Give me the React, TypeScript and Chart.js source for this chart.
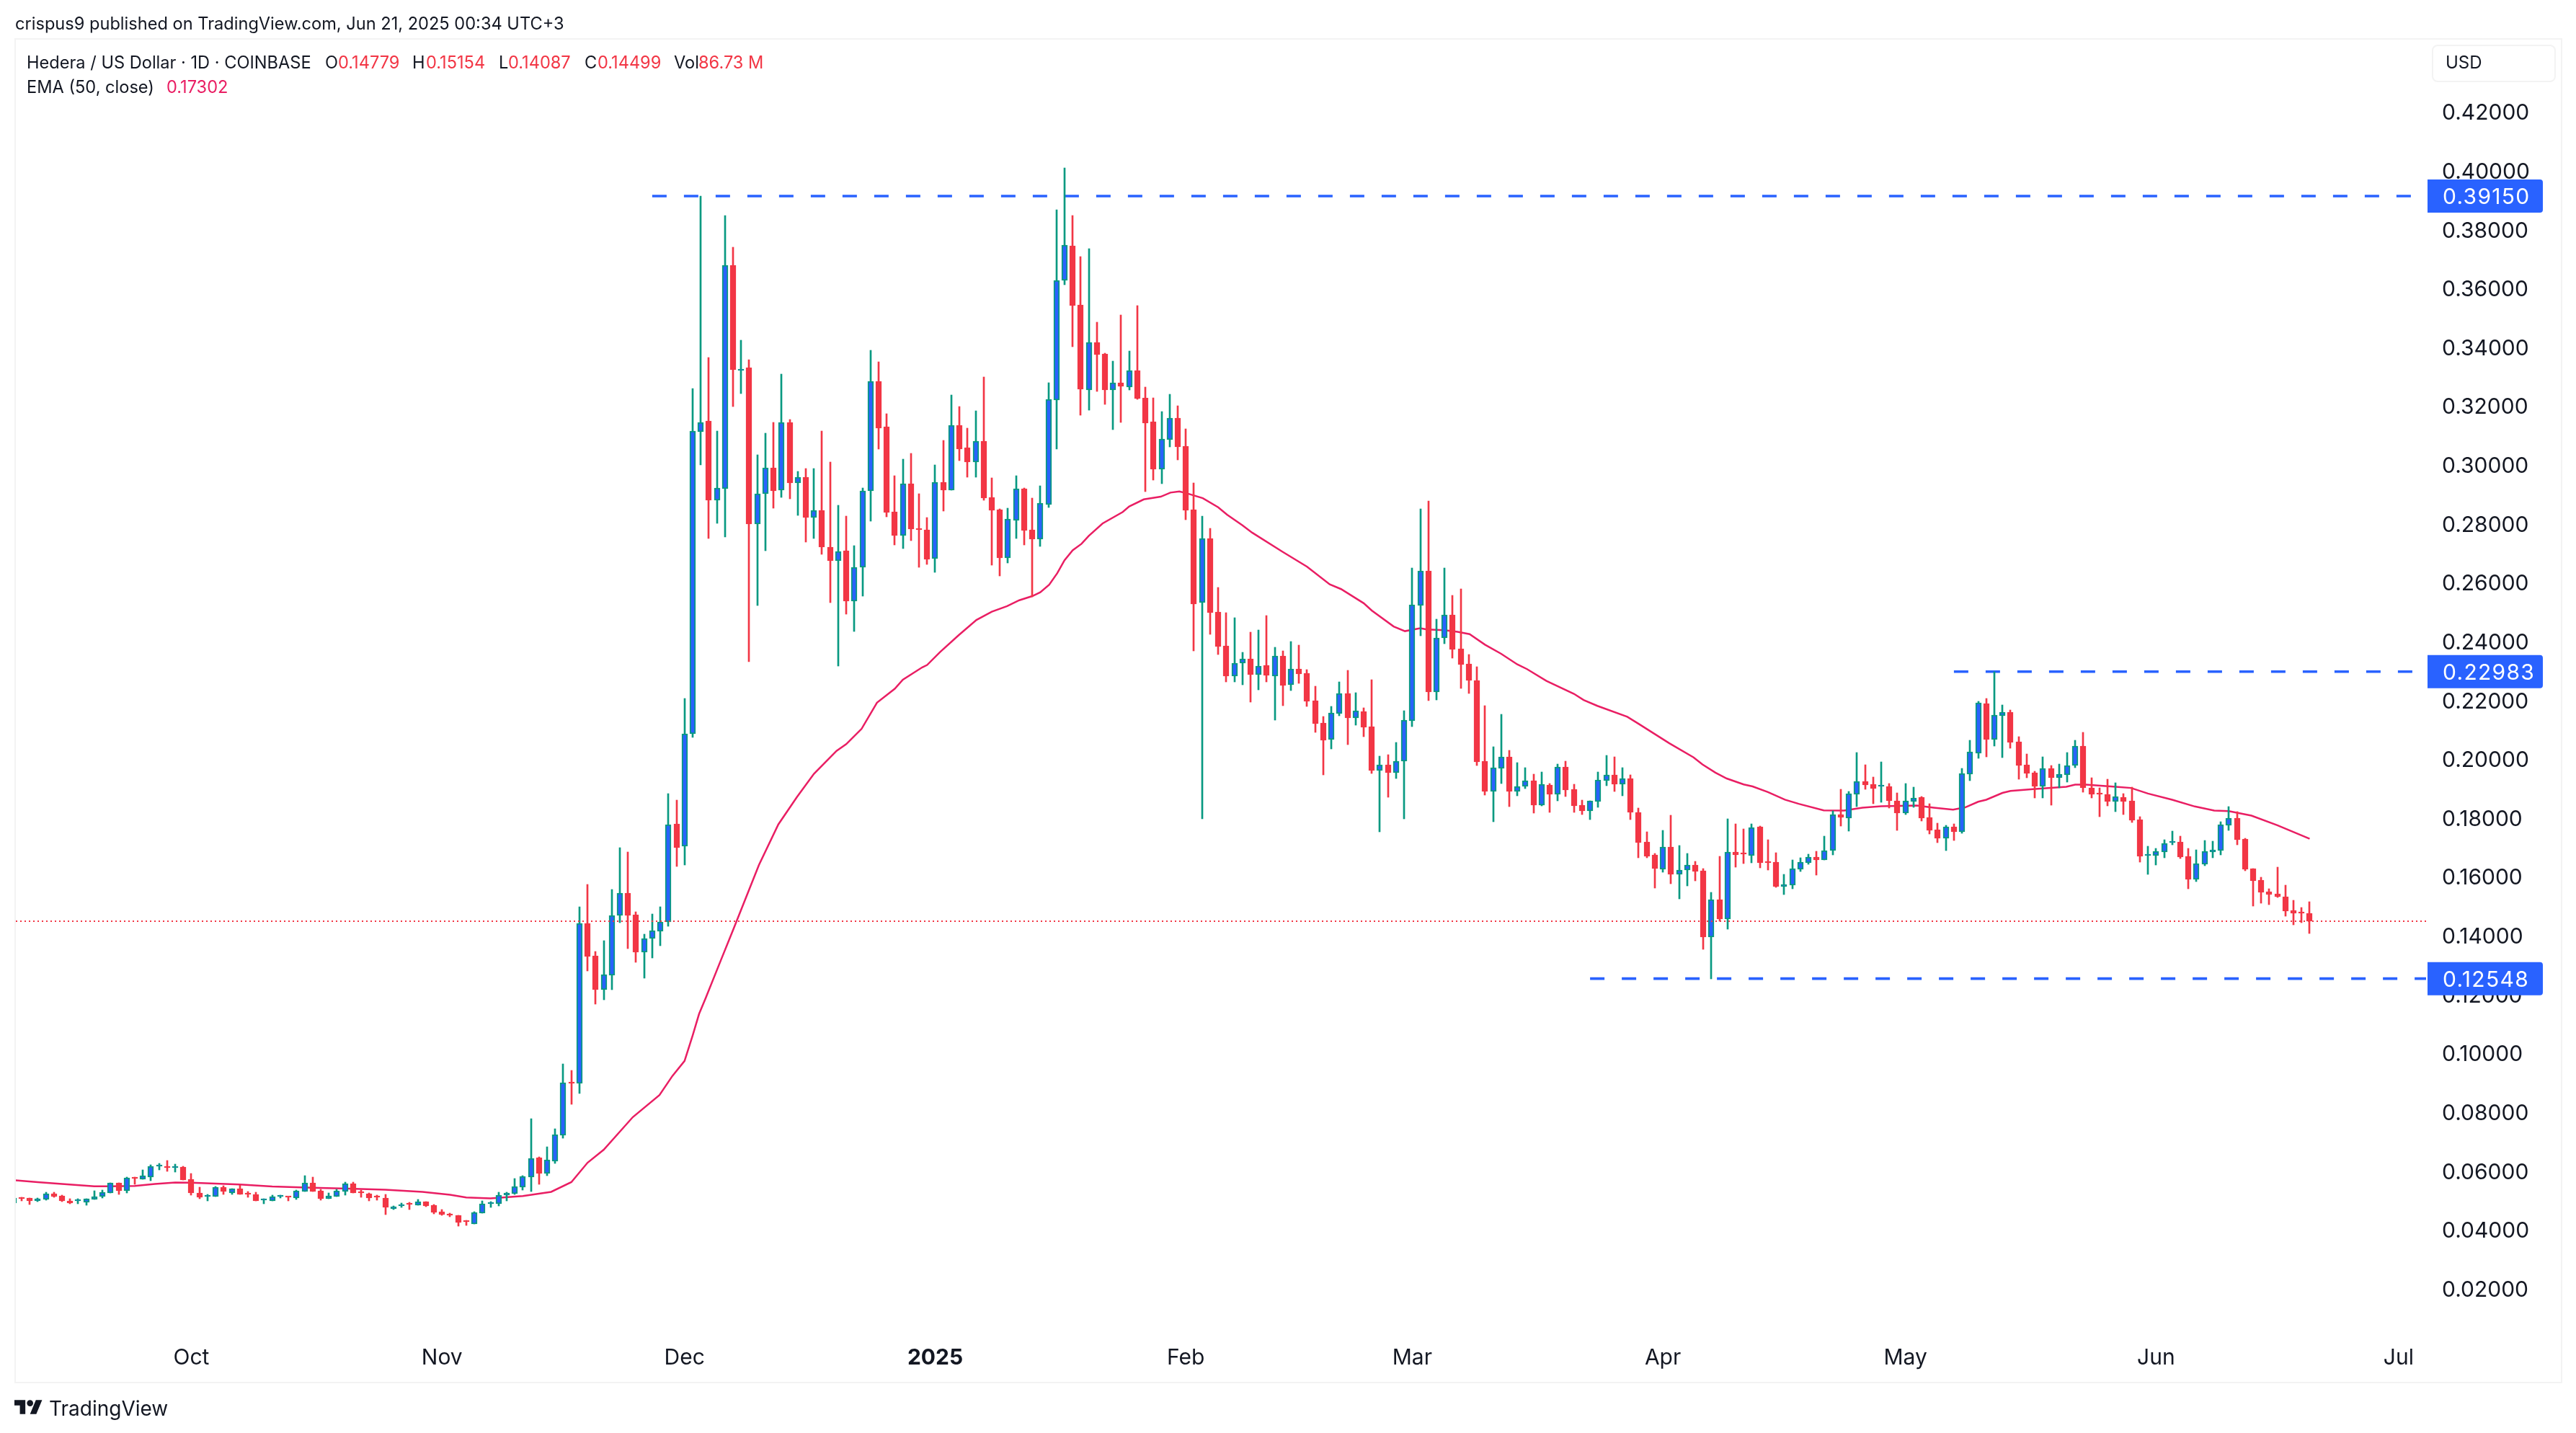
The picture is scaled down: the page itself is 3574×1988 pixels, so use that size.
import { useEffect, useRef } from 'react';
import { Chart, registerables } from 'chart.js';

Chart.register(...registerables);

const FONT = 'Inter, "Noto Sans", sans-serif';
const INK = '#131722';
const UP = '#089981';
const UP_FILL = '#2962ff';
const DOWN = '#f23645';
const EMA_COLOR = '#e91e63';
const LEVEL_COLOR = '#2962ff';

// daily candles, Sep 9 2024 -> Jun 20 2025
const opens = [
  .0493, .0511, .0508, .0498, .0505, .0524, .0516, .0498, .0498, .0495,
  .0505, .0515, .0526, .0560, .0534, .0579, .0573, .0581, .0616, .0616,
  .0613, .0614, .0573, .0525, .0515, .0515, .0546, .0527, .0541, .0526,
  .0521, .0501, .0500, .0513, .0515, .0510, .0532, .0561, .0533, .0507,
  .0515, .0532, .0558, .0529, .0524, .0514, .0509, .0473, .0481, .0490,
  .0484, .0497, .0484, .0462, .0455, .0450, .0430, .0422, .0458, .0490,
  .0490, .0520, .0524, .0547, .0581, .0647, .0592, .0635, .0723, .0902,
  .0899, .1443, .1332, .1216, .1265, .1469, .1545, .1472, .1345, .1390,
  .1416, .1447, .1780, .1704, .2086, .3113, .3151, .2880, .2921, .3680,
  .3322, .3332, .2801, .2902, .2991, .2915, .3146, .2940, .2960, .2822,
  .2846, .2721, .2674, .2710, .2537, .2652, .2912, .3285, .3130, .2841,
  .2762, .2937, .2785, .2780, .2682, .2943, .2915, .3135, .3060, .3012,
  .3082, .2891, .2849, .2685, .2813, .2919, .2780, .2749, .2866, .3221,
  .3629, .3746, .3544, .3255, .3418, .3379, .3255, .3280, .3266, .3323,
  .3229, .3148, .2987, .3087, .3160, .3065, .2849, .2532, .2751, .2501,
  .2387, .2283, .2326, .2341, .2288, .2319, .2283, .2352, .2254, .2308,
  .2293, .2200, .2124, .2068, .2155, .2224, .2141, .2162, .2112, .1962,
  .1982, .1955, .1994, .2132, .2523, .2641, .2229, .2412, .2492, .2376,
  .2324, .2268, .1994, .1890, .1969, .2009, .1890, .1908, .1928, .1844,
  .1913, .1881, .1974, .1899, .1845, .1825, .1857, .1928, .1947, .1915,
  .1935, .1820, .1719, .1676, .1627, .1702, .1609, .1623, .1641, .1621,
  .1397, .1524, .1457, .1684, .1680, .1674, .1771, .1653, .1651, .1568,
  .1573, .1626, .1648, .1668, .1658, .1690, .1813, .1800, .1881, .1925,
  .1916, .1907, .1908, .1859, .1817, .1857, .1871, .1803, .1761, .1732,
  .1771, .1754, .1950, .2021, .2190, .2067, .2148, .2161, .2060, .1982,
  .1955, .1908, .1969, .1938, .1947, .1979, .2045, .1903, .1885, .1881,
  .1857, .1871, .1859, .1795, .1674, .1673, .1685, .1718, .1720, .1671,
  .1592, .1644, .1685, .1690, .1776, .1800, .1729, .1629, .1590, .1550,
  .1543, .1533, .1487, .1481, .14779,
];
const highs = [
  .0510, .0512, .0509, .0508, .0529, .0529, .0518, .0506, .0506, .0507,
  .0533, .0536, .0561, .0561, .0579, .0579, .0604, .0622, .0626, .0636,
  .0623, .0616, .0592, .0546, .0522, .0548, .0551, .0541, .0552, .0531,
  .0529, .0507, .0519, .0519, .0515, .0536, .0585, .0580, .0538, .0526,
  .0538, .0563, .0563, .0536, .0526, .0520, .0521, .0482, .0493, .0494,
  .0504, .0497, .0486, .0470, .0458, .0450, .0433, .0462, .0498, .0497,
  .0529, .0529, .0575, .0585, .0778, .0649, .0683, .0744, .0965, .0943,
  .1498, .1575, .1347, .1384, .1558, .1700, .1685, .1482, .1406, .1475,
  .1499, .1884, .1862, .2208, .3260, .3915, .3366, .3116, .3849, .3741,
  .3426, .3359, .3035, .3108, .3146, .3310, .3155, .2979, .2988, .2988,
  .3116, .3012, .2863, .2827, .2727, .2922, .3391, .3351, .3176, .2965,
  .3021, .3040, .2904, .2822, .3001, .3085, .3238, .3199, .3126, .3185,
  .3301, .2957, .2852, .2854, .2965, .2922, .2888, .2930, .3280, .3868,
  .4010, .3849, .3709, .3737, .3487, .3381, .3354, .3510, .3388, .3543,
  .3266, .3229, .3182, .3241, .3202, .3124, .2940, .2827, .2785, .2585,
  .2499, .2482, .2365, .2432, .2440, .2490, .2382, .2369, .2400, .2389,
  .2305, .2249, .2146, .2180, .2263, .2303, .2227, .2175, .2270, .2011,
  .2016, .2058, .2166, .2650, .2852, .2879, .2477, .2650, .2557, .2580,
  .2357, .2315, .2182, .2043, .2153, .2031, .1989, .1971, .1950, .1957,
  .1917, .1984, .1994, .1915, .1861, .1860, .1957, .2014, .2009, .1971,
  .1947, .1834, .1753, .1681, .1758, .1810, .1708, .1681, .1654, .1629,
  .1548, .1671, .1798, .1781, .1764, .1781, .1773, .1727, .1683, .1609,
  .1658, .1666, .1678, .1688, .1739, .1825, .1898, .1891, .2023, .1982,
  .1940, .1991, .1918, .1886, .1918, .1906, .1874, .1849, .1783, .1776,
  .1781, .1969, .2065, .2197, .2207, .2298, .2185, .2168, .2077, .2018,
  .1960, .2009, .1979, .1984, .2023, .2065, .2092, .1938, .1903, .1933,
  .1921, .1884, .1906, .1805, .1705, .1697, .1727, .1756, .1739, .1697,
  .1693, .1724, .1722, .1788, .1840, .1822, .1732, .1629, .1599, .1560,
  .1634, .1573, .1521, .1497, .15154,
];
const lows = [
  .0492, .0500, .0488, .0497, .0502, .0511, .0497, .0489, .0490, .0484,
  .0504, .0510, .0525, .0522, .0527, .0555, .0573, .0569, .0605, .0600,
  .0598, .0571, .0520, .0507, .0500, .0515, .0522, .0522, .0522, .0512,
  .0500, .0490, .0500, .0510, .0498, .0505, .0530, .0532, .0502, .0507,
  .0515, .0520, .0525, .0512, .0500, .0502, .0453, .0470, .0476, .0471,
  .0484, .0480, .0456, .0451, .0446, .0414, .0417, .0422, .0458, .0478,
  .0483, .0500, .0522, .0537, .0532, .0556, .0586, .0627, .0713, .0827,
  .0865, .1282, .1167, .1184, .1218, .1445, .1357, .1310, .1257, .1325,
  .1367, .1433, .1637, .1641, .2074, .3001, .2751, .2802, .2755, .3199,
  .3243, .2332, .2524, .2710, .2854, .2891, .2887, .2829, .2738, .2751,
  .2698, .2533, .2318, .2494, .2435, .2555, .2810, .3055, .2824, .2729,
  .2716, .2744, .2654, .2663, .2637, .2844, .2915, .3016, .2960, .2960,
  .2880, .2660, .2624, .2668, .2751, .2729, .2552, .2724, .2857, .3055,
  .3613, .3402, .3169, .3187, .3251, .3207, .3121, .3146, .3255, .3224,
  .2910, .2949, .2937, .3062, .3018, .2815, .2369, .1797, .2426, .2357,
  .2263, .2263, .2254, .2194, .2236, .2263, .2133, .2183, .2234, .2259,
  .2180, .2092, .1947, .2036, .2148, .2050, .2117, .2077, .1953, .1753,
  .1872, .1936, .1798, .2112, .2420, .2200, .2202, .2393, .2344, .2241,
  .2224, .1980, .1879, .1789, .1917, .1839, .1876, .1901, .1818, .1841,
  .1820, .1859, .1874, .1820, .1812, .1796, .1837, .1910, .1890, .1876,
  .1796, .1665, .1665, .1562, .1616, .1578, .1526, .1571, .1587, .1355,
  .1255, .1449, .1423, .1634, .1646, .1648, .1631, .1624, .1565, .1541,
  .1560, .1619, .1644, .1607, .1658, .1675, .1773, .1756, .1840, .1898,
  .1849, .1854, .1835, .1759, .1813, .1837, .1790, .1747, .1717, .1690,
  .1724, .1749, .1928, .2004, .2009, .2045, .2006, .2038, .1933, .1938,
  .1869, .1869, .1844, .1903, .1923, .1972, .1889, .1869, .1805, .1842,
  .1822, .1813, .1786, .1651, .1609, .1641, .1666, .1710, .1663, .1560,
  .1585, .1639, .1666, .1675, .1759, .1710, .1622, .1501, .1511, .1506,
  .1531, .1467, .1438, .1445, .14087,
];
const closes = [
  .0508, .0507, .0498, .0507, .0524, .0514, .0498, .0492, .0502, .0506,
  .0515, .0528, .0560, .0534, .0577, .0575, .0584, .0617, .0619, .0611,
  .0616, .0571, .0525, .0511, .0518, .0546, .0530, .0540, .0522, .0522,
  .0500, .0504, .0514, .0515, .0512, .0533, .0561, .0532, .0507, .0516,
  .0533, .0558, .0525, .0525, .0509, .0511, .0476, .0480, .0487, .0487,
  .0497, .0482, .0461, .0453, .0449, .0426, .0427, .0460, .0489, .0494,
  .0520, .0526, .0548, .0582, .0645, .0592, .0639, .0725, .0900, .0899,
  .1443, .1331, .1216, .1268, .1469, .1545, .1470, .1345, .1390, .1417,
  .1447, .1778, .1701, .2086, .3116, .3146, .2880, .2922, .3680, .3324,
  .3328, .2801, .2904, .2991, .2913, .3146, .2940, .2960, .2822, .2846,
  .2721, .2674, .2707, .2537, .2654, .2913, .3285, .3127, .2840, .2762,
  .2937, .2782, .2781, .2680, .2943, .2915, .3135, .3055, .3012, .3082,
  .2888, .2846, .2685, .2818, .2919, .2779, .2749, .2871, .3224, .3629,
  .3748, .3543, .3259, .3418, .3376, .3255, .3280, .3268, .3323, .3226,
  .3143, .2987, .3090, .3160, .3062, .2846, .2529, .2751, .2499, .2383,
  .2283, .2327, .2341, .2288, .2318, .2285, .2352, .2251, .2307, .2290,
  .2198, .2121, .2065, .2158, .2224, .2141, .2166, .2108, .1962, .1981,
  .1955, .1994, .2133, .2526, .2641, .2229, .2413, .2492, .2373, .2322,
  .2268, .1991, .1890, .1971, .2009, .1890, .1908, .1928, .1845, .1915,
  .1881, .1974, .1896, .1842, .1825, .1859, .1930, .1947, .1915, .1935,
  .1820, .1717, .1671, .1629, .1702, .1609, .1623, .1641, .1619, .1396,
  .1524, .1457, .1684, .1676, .1677, .1769, .1648, .1649, .1568, .1574,
  .1628, .1651, .1668, .1658, .1690, .1813, .1803, .1884, .1925, .1913,
  .1901, .1911, .1859, .1817, .1859, .1869, .1800, .1759, .1732, .1771,
  .1754, .1952, .2026, .2192, .2067, .2151, .2161, .2058, .1979, .1952,
  .1908, .1969, .1938, .1950, .1979, .2045, .1903, .1881, .1882, .1857,
  .1874, .1857, .1793, .1671, .1678, .1688, .1715, .1722, .1668, .1592,
  .1646, .1688, .1693, .1778, .1800, .1727, .1626, .1587, .1548, .1541,
  .1533, .1484, .1477, .1478, .14499,
];

// EMA (50, close), at the candle positions in emaAt
const emaAt = [
  0, 3, 6, 10, 12, 15, 17.5, 20, 22, 28, 32, 37, 41.5, 46, 50.6, 54, 56, 59, 63, 66.5, 69, 71, 73, 76.6, 79.9,
  81.5, 83, 84, 84.8, 85.6, 87.5, 89, 92.2, 94.6, 96.9, 99, 101.8, 103, 104.9, 106.8, 109, 110, 112.4, 113,
  114.6, 116.9, 119.1, 121, 122.9, 124.4, 126, 127, 128.1, 129.1, 130, 131, 132.1, 133, 134.7, 137.2, 138,
  139.8, 141.9, 143.1, 144.2, 145.2, 147.1, 149, 150.1, 152, 153.2, 157, 160, 162.8, 164.2, 167, 168, 170.7,
  172.1, 174, 174.8, 177, 178.6, 180.1, 182, 184, 186, 187.2, 189.6, 193, 194.2, 195.9, 199.6, 201, 204.8,
  207.8, 208.9, 210.5, 211.9, 214, 215.1, 217, 219.1, 220.8, 223.9, 226.4, 228.7, 231, 235.4, 237.5, 239.9,
  241.4, 243, 244, 246, 247, 249.8, 253.9, 255, 256.3, 260, 261.9, 264, 267, 269.8, 272.2, 274, 276.8, 280, 284,
];
const emaValues = [
  .0570, .0563, .0557, .0549, .0549, .0550, .0557, .0562, .0561, .0555, .0548, .0544, .0541, .0537, .0530, .0520, .0511, .0508, .0516, .0530, .0563, .0629, .0673, .0784, .0859,
  .0924, .0975, .1061, .1135, .1188, .1318, .1420, .1641, .1779, .1872, .1951, .2029, .2052, .2104, .2193, .2240, .2271, .2313, .2321,
  .2365, .2422, .2474, .2502, .2521, .2541, .2555, .2568, .2594, .2633, .2677, .2711, .2733, .2760, .2802, .2841, .2860,
  .2884, .2893, .2907, .2911, .2904, .2888, .2857, .2832, .2796, .2771, .2705, .2655, .2595, .2579, .2531, .2506, .2452,
  .2436, .2446, .2442, .2439, .2434, .2426, .2390, .2359, .2323, .2307, .2267, .2223, .2202, .2182, .2145, .2121, .2055,
  .2007, .1983, .1955, .1935, .1915, .1908, .1889, .1863, .1849, .1827, .1826, .1836, .1841, .1843, .1836, .1829,
  .1837, .1856, .1863, .1886, .1893, .1899, .1907, .1914, .1914, .1907, .1903, .1884, .1863, .1840, .1826, .1824, .1809, .1776, .17302,
];

const levelValues = [0.3915, 0.22983, 0.12548];
const levelStarts = [79, 240, 195];
const lastPrice = 0.14499;

const priceTicks = [
  0.02, 0.04, 0.06, 0.08, 0.1, 0.12, 0.14, 0.16, 0.18, 0.2, 0.22,
  0.24, 0.26, 0.28, 0.3, 0.32, 0.34, 0.36, 0.38, 0.4, 0.42,
];
const monthAt = [22, 53, 83, 114, 145, 173, 204, 234, 265, 295];
const monthLabels = ['Oct', 'Nov', 'Dec', '2025', 'Feb', 'Mar', 'Apr', 'May', 'Jun', 'Jul'];

const X_MIN = 0.294;
const X_MAX = 298.4;
const Y_MIN = 0.00361;
const Y_MAX = 0.44443;
// canvas "middle" sits a little high for Inter digits, nudge the tick labels down
const TICK_NUDGE = 0.0004;

// candles land on whole pixels, like the original
const snapBars = {
  id: 'snapBars',
  beforeDatasetsDraw(chart: Chart) {
    chart.getSortedVisibleDatasetMetas().forEach((meta: any) => {
      if (meta.type !== 'bar') return;
      meta.data.forEach((bar: any) => {
        bar.x = Math.round(bar.x);
        bar.y = Math.round(bar.y);
        bar.base = Math.round(bar.base);
      });
    });
  },
};

const levelBadges = {
  id: 'levelBadges',
  afterDraw(chart: Chart) {
    const { ctx } = chart;
    const yScale = chart.scales.y;
    ctx.save();
    levelValues.forEach((value) => {
      const y = yScale.getPixelForValue(value);
      ctx.fillStyle = LEVEL_COLOR;
      ctx.beginPath();
      ctx.roundRect(yScale.left + 2, y - 23, 160, 46, [0, 4, 4, 0]);
      ctx.fill();
      ctx.fillStyle = '#ffffff';
      ctx.font = `400 30px ${FONT}`;
      (ctx as any).letterSpacing = '1.3px';
      ctx.textAlign = 'left';
      ctx.textBaseline = 'middle';
      ctx.fillText(value.toFixed(5), yScale.left + 23, y + 2);
    });
    ctx.restore();
  },
};

const legendRow1 = [
  { left: 37, text: 'Hedera / US Dollar · 1D · COINBASE', color: INK },
  { left: 451, text: 'O', color: INK },
  { left: 469, text: '0.14779', color: DOWN },
  { left: 572, text: 'H', color: INK },
  { left: 591, text: '0.15154', color: DOWN },
  { left: 692, text: 'L', color: INK },
  { left: 705, text: '0.14087', color: DOWN },
  { left: 811, text: 'C', color: INK },
  { left: 829, text: '0.14499', color: DOWN },
  { left: 935, text: 'Vol', color: INK },
  { left: 969, text: '86.73 M', color: DOWN },
];
const legendRow2 = [
  { left: 37, text: 'EMA (50, close)', color: INK },
  { left: 231, text: '0.17302', color: EMA_COLOR },
];

function Label({ left, top, text, color = INK, size = 23.6, weight = 400 }: any) {
  return (
    <span
      style={{
        position: 'absolute',
        left,
        top: top - 20,
        height: 40,
        lineHeight: '40px',
        fontFamily: FONT,
        fontSize: size,
        fontWeight: weight,
        color,
        whiteSpace: 'pre',
      }}
    >
      {text}
    </span>
  );
}

export default function App() {
  const canvasRef = useRef<HTMLCanvasElement>(null);

  useEffect(() => {
    if (!canvasRef.current) return;

    const isUp = opens.map((open, i) => closes[i] >= open);

    const chart = new Chart(canvasRef.current, {
      type: 'bar',
      data: {
        datasets: [
          {
            type: 'line',
            order: 1,
            data: [
              { x: X_MIN, y: lastPrice },
              { x: X_MAX, y: lastPrice },
            ],
            borderColor: DOWN,
            borderWidth: 2,
            borderDash: [2, 4],
            pointRadius: 0,
          },
          {
            type: 'bar',
            order: 2,
            data: opens.map((open, i) => ({ x: i, y: [open, closes[i]] })),
            backgroundColor: isUp.map((up) => (up ? UP_FILL : DOWN)),
            borderColor: isUp.map((up) => (up ? UP : DOWN)),
            borderWidth: 2,
            borderSkipped: false,
            barThickness: 8,
            minBarLength: 2,
            grouped: false,
          },
          {
            type: 'bar',
            order: 3,
            data: lows.map((low, i) => ({ x: i, y: [low, highs[i]] })),
            backgroundColor: isUp.map((up) => (up ? UP : DOWN)),
            borderWidth: 0,
            barThickness: 2,
            grouped: false,
          },
          ...levelValues.map((value, i) => ({
            type: 'line',
            order: 4,
            data: [
              { x: levelStarts[i], y: value },
              { x: X_MAX, y: value },
            ],
            borderColor: LEVEL_COLOR,
            borderWidth: 3.6,
            borderDash: [20, 24],
            pointRadius: 0,
          })),
          {
            type: 'line',
            order: 5,
            data: emaAt.map((x, i) => ({ x, y: emaValues[i] })),
            borderColor: EMA_COLOR,
            borderWidth: 2.5,
            pointRadius: 0,
            tension: 0,
          },
        ],
      } as any,
      options: {
        responsive: false,
        devicePixelRatio: 1,
        animation: false,
        events: [],
        layout: { padding: { left: 22, top: 56, right: 0, bottom: 0 } },
        plugins: { legend: { display: false }, tooltip: { enabled: false } },
        scales: {
          x: {
            type: 'linear',
            offset: false,
            min: X_MIN,
            max: X_MAX,
            grid: { display: false, drawTicks: false },
            border: { display: false },
            afterBuildTicks: (scale: any) => {
              scale.ticks = monthAt.map((value) => ({ value }));
            },
            afterFit: (scale: any) => {
              scale.height = 133;
            },
            ticks: {
              autoSkip: false,
              maxRotation: 0,
              padding: 11,
              color: INK,
              font: (ctx: any) => ({
                family: FONT,
                size: 30,
                weight: ctx.tick && ctx.tick.value === 114 ? 'bold' : 'normal',
              }),
              callback: (value: any) => monthLabels[monthAt.indexOf(value)],
            },
          },
          y: {
            type: 'linear',
            position: 'right',
            min: Y_MIN,
            max: Y_MAX,
            grid: { display: false, drawTicks: false },
            border: { display: false },
            afterBuildTicks: (scale: any) => {
              scale.ticks = priceTicks.map((value) => ({ value: value - TICK_NUDGE }));
            },
            afterFit: (scale: any) => {
              scale.width = 208;
            },
            ticks: {
              autoSkip: false,
              padding: 22,
              color: INK,
              font: { family: FONT, size: 30 },
              callback: (value: any) => (Number(value) + TICK_NUDGE).toFixed(5),
            },
          },
        },
      },
      plugins: [snapBars, levelBadges],
    } as any);

    return () => chart.destroy();
  }, []);

  return (
    <div style={{ position: 'fixed', left: 0, top: 0, width: 3574, height: 1988, background: '#ffffff', overflow: 'hidden' }}>
      <div
        style={{
          position: 'absolute',
          left: 20,
          top: 53,
          width: 3531,
          height: 1862,
          border: '2px solid #f3f3f3',
        }}
      />
      <div
        style={{
          position: 'absolute',
          left: 3374,
          top: 62,
          width: 168,
          height: 48,
          border: '2px solid #f3f3f3',
          borderRadius: 8,
        }}
      />
      <canvas ref={canvasRef} width={3574} height={1988} style={{ position: 'absolute', left: 0, top: 0 }} />
      <Label left={21} top={33} text="crispus9 published on TradingView.com, Jun 21, 2025 00:34 UTC+3" />
      {legendRow1.map((item) => (
        <Label key={item.left} left={item.left} top={87} text={item.text} color={item.color} />
      ))}
      {legendRow2.map((item) => (
        <Label key={item.left} left={item.left} top={121} text={item.text} color={item.color} />
      ))}
      <Label left={3393} top={87} text="USD" size={24} />
      <svg style={{ position: 'absolute', left: 20, top: 1942 }} width={39} height={20} viewBox="0 4 36 18">
        <path d="M14 22H7V11H0V4h14v18zM28 22h-8l7.5-18h8L28 22z" fill={INK} />
        <circle cx={20} cy={8} r={4} fill={INK} />
      </svg>
      <Label left={68} top={1954} text="TradingView" size={28} />
    </div>
  );
}
